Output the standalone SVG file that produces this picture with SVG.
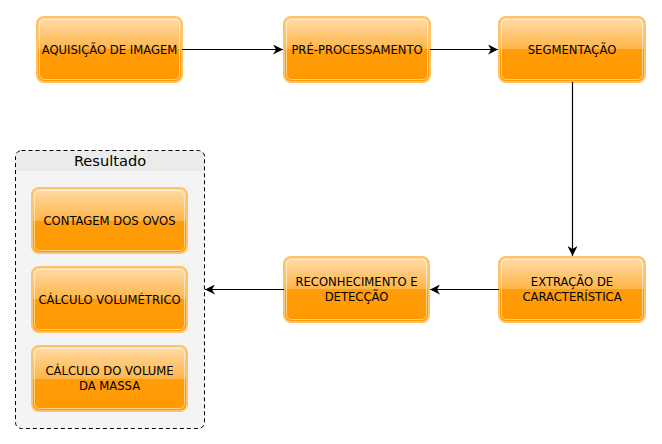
<svg xmlns="http://www.w3.org/2000/svg" width="662" height="444" viewBox="0 0 662 444">
<defs>
<linearGradient id="g" x1="0" y1="0" x2="0" y2="1">
<stop offset="0" stop-color="#ffdcaa"/>
<stop offset="0.5" stop-color="#ffb547"/>
<stop offset="0.5" stop-color="#ff9d0a"/>
<stop offset="1" stop-color="#ff9900"/>
</linearGradient>
<marker id="ah" viewBox="0 0 10 10" refX="10" refY="5" markerWidth="10" markerHeight="10" markerUnits="userSpaceOnUse" orient="auto">
<path d="M0,0 L10,5 L0,10 L3,5 Z" fill="#000"/>
</marker>
<style>
.box{fill:url(#g);stroke:#ffc266;stroke-width:2}
.inner{fill:none;stroke:#fff;stroke-opacity:0.55;stroke-width:1}
.t{font-family:"DejaVu Sans",Verdana,sans-serif;font-size:11.6px;fill:#000;text-anchor:middle}
.e{fill:none;stroke:#000;stroke-width:1.2;marker-end:url(#ah)}
</style>
</defs>
<rect width="662" height="444" fill="#fff"/>
<g id="resultado">
<rect x="15.5" y="150.5" width="189" height="278" rx="6" fill="#f4f4f4"/>
<path d="M15.5,171 V156.5 a6,6 0 0 1 6,-6 H198.5 a6,6 0 0 1 6,6 V171 Z" fill="#ebebeb"/>
<rect x="15.5" y="150.5" width="189" height="278" rx="6" fill="none" stroke="#000" stroke-dasharray="4,3"/>
<text x="110" y="165.5" style="font-family:'DejaVu Sans',Verdana,sans-serif;font-size:14.6px;text-anchor:middle">Resultado</text>
</g>
<g id="aquisicao">
<rect class="box" x="37" y="17" width="145" height="65" rx="7"/>
<rect class="inner" x="39.5" y="19.5" width="140" height="60" rx="5"/>
<text class="t" x="109.5" y="53.5">AQUISIÇÃO DE IMAGEM</text>
</g>
<g id="preprocessamento">
<rect class="box" x="284" y="17" width="146" height="65" rx="7"/>
<rect class="inner" x="286.5" y="19.5" width="141" height="60" rx="5"/>
<text class="t" x="357" y="53.5">PRÉ-PROCESSAMENTO</text>
</g>
<g id="segmentacao">
<rect class="box" x="499" y="17" width="146" height="65" rx="7"/>
<rect class="inner" x="501.5" y="19.5" width="141" height="60" rx="5"/>
<text class="t" x="572" y="53.5">SEGMENTAÇÃO</text>
</g>
<g id="extracao">
<rect class="box" x="499" y="257" width="146" height="65" rx="7"/>
<rect class="inner" x="501.5" y="259.5" width="141" height="60" rx="5"/>
<text class="t" x="572" y="286">EXTRAÇÃO DE</text>
<text class="t" x="572" y="300.5">CARACTERÍSTICA</text>
</g>
<g id="reconhecimento">
<rect class="box" x="284" y="257" width="145" height="65" rx="7"/>
<rect class="inner" x="286.5" y="259.5" width="140" height="60" rx="5"/>
<text class="t" x="356.5" y="286">RECONHECIMENTO E</text>
<text class="t" x="356.5" y="300.5">DETECÇÃO</text>
</g>
<g id="contagem">
<rect class="box" x="32" y="188" width="155" height="65" rx="7"/>
<rect class="inner" x="34.5" y="190.5" width="150" height="60" rx="5"/>
<text class="t" x="109.5" y="224.5">CONTAGEM DOS OVOS</text>
</g>
<g id="volumetrico">
<rect class="box" x="32" y="267" width="155" height="65" rx="7"/>
<rect class="inner" x="34.5" y="269.5" width="150" height="60" rx="5"/>
<text class="t" x="109.5" y="303.5">CÁLCULO VOLUMÉTRICO</text>
</g>
<g id="volumemassa">
<rect class="box" x="32" y="346" width="155" height="65" rx="7"/>
<rect class="inner" x="34.5" y="348.5" width="150" height="60" rx="5"/>
<text class="t" x="109.5" y="375">CÁLCULO DO VOLUME</text>
<text class="t" x="109.5" y="389.5">DA MASSA</text>
</g>
<g id="connectors">
<path class="e" d="M182,49.5 H283"/>
<path class="e" d="M430,49.5 H498"/>
<path class="e" d="M572.5,82 V256"/>
<path class="e" d="M499,289.5 H430"/>
<path class="e" d="M284,289.5 H205"/>
</g>
</svg>
